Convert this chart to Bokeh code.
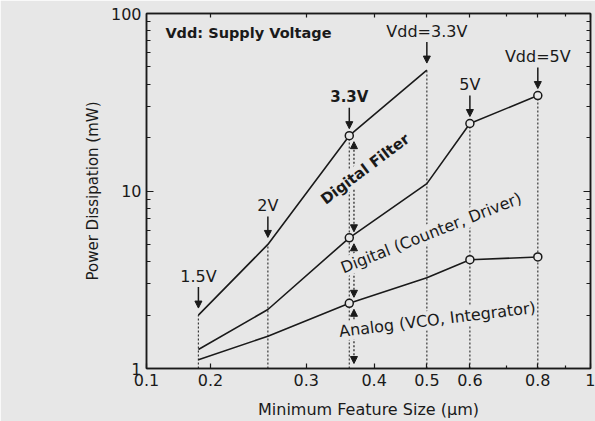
import numpy as np
from bokeh.plotting import figure
from bokeh.models import LogAxis, FixedTicker, Label, Arrow, NormalHead
from bokeh.embed import file_html
from bokeh.resources import INLINE

# ---------------- data ----------------
feature_size = [0.19, 0.255, 0.36, 0.5, 0.6, 0.8]          # µm
filter_size = [0.19, 0.255, 0.36, 0.5]                      # µm
power_filter = [2.0, 5.0, 20.5, 48.0]                       # mW
power_counter = [1.28, 2.15, 5.45, 11.0, 24.0, 34.5]        # mW
power_analog = [1.12, 1.52, 2.33, 3.25, 4.1, 4.25]          # mW
circled_sizes = [0.36, 0.6, 0.8]
vdd_labels = ["1.5V", "2V", "3.3V", "Vdd=3.3V", "5V", "Vdd=5V"]
vdd_bold = [False, False, True, False, False, False]

x_tick_values = [0.1525, 0.2, 0.3, 0.4, 0.5, 0.6, 0.8, 1.0]
x_tick_labels = ["0.1", "0.2", "0.3", "0.4", "0.5", "0.6", "0.8", "1"]
x_minor_values = [0.7, 0.9]
y_tick_values = [1, 10, 100]
y_tick_labels = ["1", "10", "100"]
y_minor_values = [2, 3, 4, 5, 6, 7, 8, 9, 20, 30, 40, 50, 60, 70, 80, 90]

series = [
    ("Digital Filter", filter_size, power_filter),
    ("Digital (Counter, Driver)", feature_size, power_counter),
    ("Analog (VCO, Integrator)", feature_size, power_analog),
]

# ---------------- style ----------------
INK = "#1a1a1a"
BG = "#e7e7e7"
FONT = "DejaVu Sans"
FRAME_W, FRAME_H = 444, 355
X_RANGE = (0.1525, 1.0)
Y_RANGE = (1.0, 100.0)
PPD_Y = FRAME_H / np.log10(Y_RANGE[1] / Y_RANGE[0])   # pixels per decade (y)


def up(px):
    """multiplicative factor that moves a value up by px pixels on the log y axis"""
    return 10 ** (px / PPD_Y)


p = figure(
    width=595, height=421,
    frame_width=FRAME_W, frame_height=FRAME_H,
    x_axis_type="log", y_axis_type="log",
    x_range=X_RANGE, y_range=Y_RANGE,
    output_backend="svg", toolbar_location=None,
    min_border_left=146, min_border_right=5, min_border_top=13, min_border_bottom=53,
    background_fill_color=BG, border_fill_color=BG,
    outline_line_color=INK, outline_line_width=1.5,
)
p.grid.visible = False

x_overrides = {v: t for v, t in zip(x_tick_values, x_tick_labels)}
y_overrides = {v: t for v, t in zip(y_tick_values, y_tick_labels)}


def style_axis(ax, ticker, overrides, show_labels):
    ax.ticker = ticker
    ax.axis_line_color = INK
    ax.axis_line_width = 1.5
    ax.major_tick_line_color = INK
    ax.minor_tick_line_color = INK
    ax.major_tick_line_width = 1.2
    ax.minor_tick_line_width = 1.2
    ax.major_tick_out = 0
    ax.minor_tick_out = 0
    ax.major_label_text_font = FONT
    if show_labels:
        ax.major_label_overrides = overrides
        ax.major_label_text_color = INK
        ax.major_label_text_font_size = "16px"
        ax.major_label_standoff = 5
    else:
        # mirror axis: ticks only, labels not painted
        ax.major_label_text_color = None
        ax.major_label_text_font_size = "1px"
        ax.major_label_standoff = 0


xt = FixedTicker(ticks=x_tick_values, minor_ticks=x_minor_values)
yt = FixedTicker(ticks=y_tick_values, minor_ticks=y_minor_values)

xb = p.xaxis[0]
yl = p.yaxis[0]
style_axis(xb, xt, x_overrides, True)
style_axis(yl, yt, y_overrides, True)
xb.major_tick_in = 5
xb.minor_tick_in = 3
yl.major_tick_in = 7
yl.minor_tick_in = 4
xb.axis_label = "Minimum Feature Size (µm)"
yl.axis_label = "Power Dissipation (mW)"
xb.axis_label_text_font = FONT
yl.axis_label_text_font = FONT
xb.axis_label_text_font_size = "16px"
yl.axis_label_text_font_size = "15px"
xb.axis_label_text_font_style = "normal"
yl.axis_label_text_font_style = "normal"
xb.axis_label_text_color = INK
yl.axis_label_text_color = INK
xb.axis_label_standoff = 11
yl.axis_label_standoff = 6

xtop = LogAxis()
style_axis(xtop, FixedTicker(ticks=x_tick_values[1:], minor_ticks=x_minor_values), {}, False)
xtop.major_tick_in = 4
xtop.minor_tick_in = 3
p.add_layout(xtop, "above")
yright = LogAxis()
style_axis(yright, FixedTicker(ticks=y_tick_values, minor_ticks=y_minor_values), {}, False)
yright.major_tick_in = 7
yright.minor_tick_in = 4
p.add_layout(yright, "right")

# ---------------- vertical dotted guides from the top point down to the axis ----------------
top_vals = []
for x in feature_size:
    vals = [ys[xs.index(x)] for _, xs, ys in series if x in xs]
    top_vals.append(max(vals))
p.segment(x0=feature_size, y0=[Y_RANGE[0]] * len(feature_size),
          x1=feature_size, y1=top_vals,
          line_color=INK, line_width=1.2, line_dash="2 2", line_alpha=0.85)

# ---------------- lines and open circles ----------------
for name, xs, ys in series:
    p.line(xs, ys, line_color=INK, line_width=1.6)
    cx = [x for x in xs if x in circled_sizes]
    cy = [ys[xs.index(x)] for x in cx]
    p.scatter(cx, cy, marker="circle", size=8, fill_color=BG,
              line_color=INK, line_width=1.5)

# ---------------- dimension arrows at 3.3 V ----------------
x_dim = circled_sizes[0] * 1.02
i33 = feature_size.index(circled_sizes[0])
levels = [power_filter[filter_size.index(circled_sizes[0])],
          power_counter[i33], power_analog[i33], Y_RANGE[0]]
for hi, lo in zip(levels[:-1], levels[1:]):
    gap_lo = 6 if lo != Y_RANGE[0] else 5
    p.add_layout(Arrow(
        x_start=x_dim, y_start=hi / up(6), x_end=x_dim, y_end=lo * up(gap_lo),
        start=NormalHead(size=7, fill_color=INK, line_color=INK, line_width=1),
        end=NormalHead(size=7, fill_color=INK, line_color=INK, line_width=1),
        line_color=INK, line_width=1.2, line_dash="2 2"))

# ---------------- supply-voltage labels with arrows ----------------
for x, top, lab, bold in zip(feature_size, top_vals, vdd_labels, vdd_bold):
    p.add_layout(Arrow(
        x_start=x, y_start=top * up(28), x_end=x, y_end=top * up(7),
        end=NormalHead(size=7, fill_color=INK, line_color=INK, line_width=1),
        line_color=INK, line_width=1.5))
    p.add_layout(Label(
        x=x, y=top * up(39), text=lab, text_align="center", text_baseline="middle",
        text_font=FONT, text_font_size="15px" if bold else "16px",
        text_font_style="bold" if bold else "normal", text_color=INK))

# ---------------- block labels ----------------
p.add_layout(Label(x=0.1652, y=77.2, text="Vdd: Supply Voltage", text_align="left",
                   text_baseline="middle", text_font=FONT, text_font_size="14.5px",
                   text_font_style="bold", text_color=INK))

block_labels = [
    ("Digital Filter", 0.385, 13.3, 37, "15px", "bold"),
    ("Digital (Counter, Driver)", 0.509, 5.81, 21.6, "16px", "normal"),
    ("Analog (VCO, Integrator)", 0.5227, 1.89, 7, "16px", "normal"),
]
for text, lx, ly, ang, fs, st in block_labels:
    p.add_layout(Label(x=lx, y=ly, text=text, angle=np.deg2rad(ang),
                       text_align="center", text_baseline="middle",
                       text_font=FONT, text_font_size=fs, text_font_style=st,
                       text_color=INK, background_fill_color=BG))

open("out.html", "w").write(file_html(p, INLINE))
